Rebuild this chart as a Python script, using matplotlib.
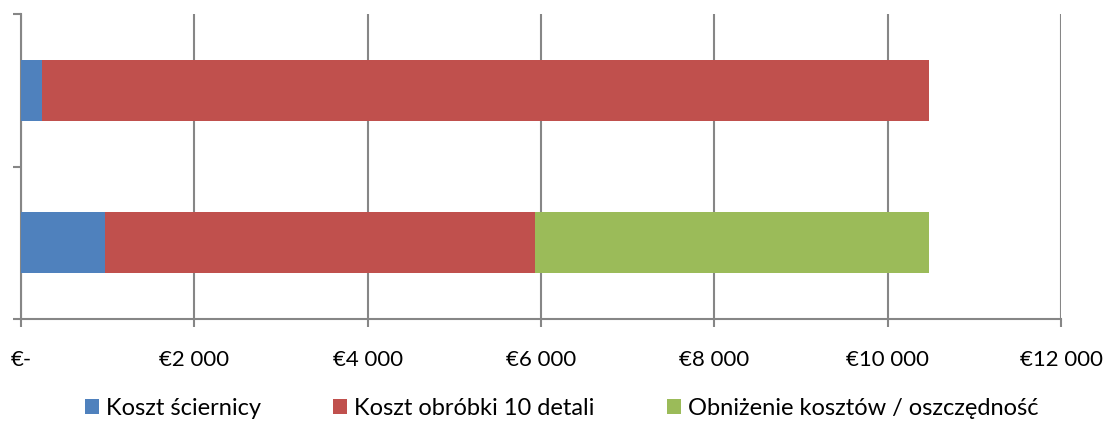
import matplotlib.pyplot as plt
import matplotlib.ticker as mticker
import numpy as np

plt.rcParams["font.family"] = ["Lato", "DejaVu Sans"]

# dane - indeks 0 = dolny pasek, 1 = górny
scenarios = ["wariant A", "wariant B"]
koszt_sciernicy = [970, 240]
koszt_obrobki = [4960, 10240]
oszczednosc = [4550, 0]

series = [
    ("Koszt ściernicy", koszt_sciernicy, "#4F81BD"),
    ("Koszt obróbki 10 detali", koszt_obrobki, "#C0504D"),
    ("Obniżenie kosztów / oszczędność", oszczednosc, "#9BBB59"),
]
x_ticks = [0, 2000, 4000, 6000, 8000, 10000, 12000]

fig = plt.figure(figsize=(11.11, 4.21), dpi=100)
ax = fig.add_axes([0.0189, 0.2423, 0.9361, 0.7244])

y = np.arange(len(scenarios))
left = np.zeros(len(scenarios))
for name, vals, col in series:
    ax.barh(y, vals, left=left, height=0.4, color=col, label=name, zorder=3)
    left += np.array(vals)

grid_col = "#868686"
ax.set_xlim(0, 12000)
ax.set_ylim(-0.5, 1.5)
ax.set_xticks(x_ticks)
ax.xaxis.set_major_formatter(
    mticker.FuncFormatter(lambda v, _: "€-" if v == 0 else "€" + f"{int(v):,}".replace(",", " ")))
ax.set_yticks([-0.5, 0.5, 1.5])
ax.set_yticklabels([])
ax.grid(axis="x", color=grid_col, linewidth=1.5, zorder=0)
for s in ["top", "right"]:
    ax.spines[s].set_visible(False)
for s in ["left", "bottom"]:
    ax.spines[s].set_color(grid_col)
    ax.spines[s].set_linewidth(1.5)
ax.tick_params(axis="both", color=grid_col, width=1.5, length=6)
ax.tick_params(axis="x", labelsize=16, pad=16)

ax.legend(loc="center", bbox_to_anchor=(0.52, -0.292), ncol=3, frameon=False,
          fontsize=17, handlelength=0.6, handleheight=0.6, handletextpad=0.3,
          columnspacing=3.05)

fig.savefig("out.png", dpi=100)
